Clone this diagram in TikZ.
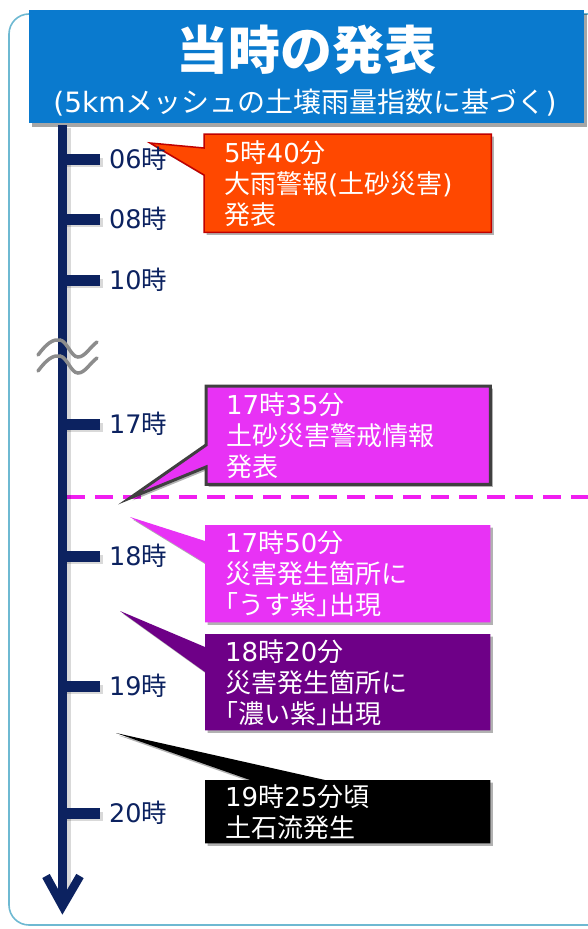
\documentclass[tikz,border=0pt]{standalone}
\usepackage{fontspec}
\setmainfont{Noto Sans CJK JP}
\newfontfamily\lat{DejaVu Sans}
\newcommand{\hb}[1]{{\addfontfeatures{RawFeature=+halt}#1}}
\usetikzlibrary{shadows,calc}
\definecolor{titleblue}{RGB}{10,122,206}
\definecolor{navy}{RGB}{12,34,96}
\definecolor{frameblue}{RGB}{110,185,210}
\definecolor{orangered}{RGB}{255,72,0}
\definecolor{darkred}{RGB}{192,0,0}
\definecolor{mag}{RGB}{232,50,245}
\definecolor{dashmag}{RGB}{240,30,240}
\definecolor{purp}{RGB}{110,0,135}
\definecolor{brkgray}{RGB}{140,140,140}
\definecolor{bordergray}{RGB}{64,64,64}
\pgfdeclarelayer{bg}
\pgfdeclarelayer{shapes}
\pgfsetlayers{bg,shapes,main}
\tikzset{
  cbox/.style={anchor=north west, inner xsep=20pt, inner ysep=0pt, align=left,
    text=white, font=\fontsize{26}{31}\selectfont},
  cshadow/.style={drop shadow={shadow xshift=2.5pt, shadow yshift=-2.5pt, opacity=0.3, fill=black}},
  axisline/.style={navy, line width=8.5pt},
  tickline/.style={navy, line width=11pt},
  shadowline/.style={black, opacity=0.15, line width=9pt},
  ticklabel/.style={anchor=west, inner sep=0pt, text=navy, font=\fontsize{25.5}{25.5}\selectfont},
  breakwave/.style={brkgray, line width=3.5pt, line cap=round},
}
\begin{document}
\begin{tikzpicture}[x=1pt,y=-1pt]
\useasboundingbox (0,0) rectangle (588,929);
\begin{pgfonlayer}{bg}
\fill[white] (0,0) rectangle (588,929);
\begin{scope}
\clip (0,0) rectangle (588,929);
\draw[frameblue, line width=1.6pt, rounded corners=20pt] (9,14) rectangle (650,925);
\end{scope}
\end{pgfonlayer}

% title
\node[fill=titleblue, minimum width=555pt, minimum height=113pt, anchor=north west, inner sep=0pt,
  drop shadow={shadow xshift=3pt, shadow yshift=-4pt, opacity=0.35, fill=black}] (title) at (29,10) {};
\node[text=white, font=\fontsize{52}{52}\selectfont\bfseries, inner sep=0pt] (tmain) at (306,50) {当時の発表};
\node[text=white, font=\fontsize{28}{28}\selectfont, inner sep=0pt] (tsub) at (305,103) {{\lat(5km}メッシュの土壌雨量指数に基づく{\lat)}};

% axis
\coordinate (axtop) at (62.5,125);
\coordinate (axend) at (62.5,898);
\coordinate (axbot) at (62.5,906);
\coordinate (ahl) at (46,876);
\coordinate (ahr) at (80,876);
\draw[shadowline] ($(axtop)+(4,3)$) -- ($(axend)+(4,0)$);
\draw[axisline] (axtop) -- (axend);
\draw[axisline, line join=miter] (ahl) -- (axbot) -- (ahr);

\foreach \y/\t/\n in {159/06/a, 219/08/b, 280/10/c, 424/17/d, 556/18/e, 686/19/f, 813/20/g}{
  \coordinate (ts\n) at (62.5,\y);
  \coordinate (te\n) at (100,\y);
  \draw[shadowline] ($(ts\n)+(4,3)$) -- ($(te\n)+(3,3)$);
  \draw[tickline] (ts\n) -- (te\n);
  \node[ticklabel] (lab\n) at (109,\y) {{\lat\t}時};
}

% break symbol
\draw[breakwave] (38,355) .. controls (47,343) and (53,339) .. (60,340)
  .. controls (67,341) and (71,357) .. (78,357) .. controls (85,357) and (90,347) .. (97,342);
\draw[breakwave] (38,371) .. controls (47,359) and (53,355) .. (60,356)
  .. controls (67,357) and (71,373) .. (78,373) .. controls (85,373) and (90,363) .. (97,358);

% callout text nodes
\node[cbox, text width=247pt, minimum height=98pt] (c1) at (204,134) {{\lat 5}時{\lat 40}分\\大雨警報{\lat(}土砂災害{\lat)}\\発表};
\node[cbox, text width=244pt, minimum height=98pt] (c2) at (206,386) {{\lat 17}時{\lat 35}分\\土砂災害警戒情報\\発表};
\node[cbox, text width=245pt, minimum height=97pt] (c3) at (205,525) {{\lat 17}時{\lat 50}分\\災害発生箇所に\\\hb{「}うす紫\hb{」}出現};
\node[cbox, text width=245pt, minimum height=96pt] (c4) at (205,634) {{\lat 18}時{\lat 20}分\\災害発生箇所に\\\hb{「}濃い紫\hb{」}出現};
\node[cbox, text width=245pt, minimum height=63pt] (c5) at (205,780) {{\lat 19}時{\lat 25}分頃\\土石流発生};

\coordinate (p1) at (150,143);
\coordinate (p2) at (130,498);
\coordinate (p3) at (130,517);
\coordinate (p4) at (120,611);
\coordinate (p5) at (116,733);

\begin{pgfonlayer}{shapes}
\draw[dashmag, line width=3.5pt, dash pattern=on 18pt off 10pt] (67,497) -- (600,497);
\path[fill=orangered, draw=darkred, line width=1.5pt, line join=miter, cshadow]
  (c1.north west) -- (c1.north east) -- (c1.south east) -- (c1.south west)
  -- (204,175) -- (p1) -- (204,148) -- cycle;
\path[fill=mag, draw=bordergray, line width=3pt, line join=miter, cshadow]
  (c2.north west) -- (c2.north east) -- (c2.south east) -- (c2.south west)
  -- (206,467) -- (p2) -- (206,445) -- cycle;
\path[fill=mag, cshadow]
  (c3.north west) -- (c3.north east) -- (c3.south east) -- (c3.south west)
  -- (205,563) -- (p3) -- (205,541) -- cycle;
\path[fill=purp, cshadow]
  (c4.north west) -- (c4.north east) -- (c4.south east) -- (c4.south west)
  -- (205,672) -- (p4) -- (205,647) -- cycle;
\path[fill=black, cshadow]
  (c5.north west) -- (250,780) -- (p5) -- (325,780) -- (c5.north east) -- (c5.south east) -- (c5.south west) -- cycle;
\end{pgfonlayer}
\end{tikzpicture}
\end{document}
